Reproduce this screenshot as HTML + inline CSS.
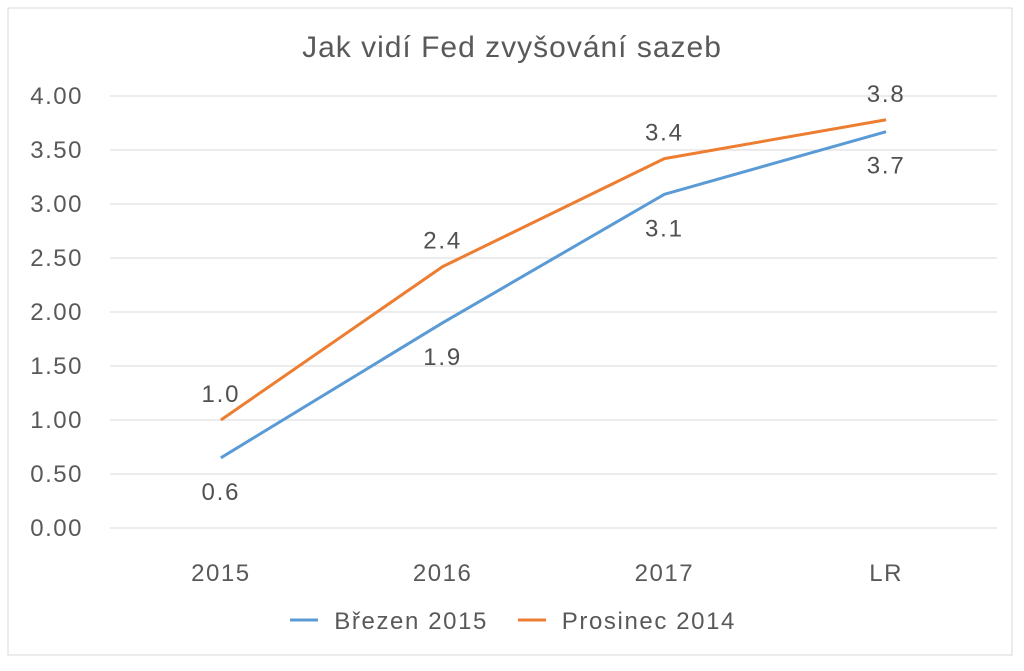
<!DOCTYPE html>
<html><head><meta charset="utf-8"><style>
body{margin:0;background:#fff;}
svg{display:block;font-family:"Liberation Sans",sans-serif;}
</style></head><body>
<svg id="c" width="1024" height="671">
<rect x="8" y="8" width="1004" height="647" fill="#fff" stroke="#d9d9d9"/>
<text x="512" y="57" text-anchor="middle" font-size="30" letter-spacing="1" fill="#595959">Jak vidí Fed zvyšování sazeb</text>
<g id="grid"></g><g id="series"></g>
<g>
<line x1="290" y1="620" x2="318" y2="620" stroke="#5b9bd5" stroke-width="3"/>
<text x="488" y="629" text-anchor="end" font-size="24" letter-spacing="1.6" fill="#595959">Březen 2015</text>
<line x1="518" y1="620" x2="546" y2="620" stroke="#ed7d31" stroke-width="3"/>
<text x="736" y="629" text-anchor="end" font-size="24" letter-spacing="1.6" fill="#595959">Prosinec 2014</text>
</g>
</svg>
<script>
const categories=["2015","2016","2017","LR"];
const brezen=[0.65,1.9,3.09,3.67];
const prosinec=[1.0,2.42,3.42,3.78];
const brezenLabels=["0.6","1.9","3.1","3.7"];
const prosinecLabels=["1.0","2.4","3.4","3.8"];
const yTicks=[0,0.5,1,1.5,2,2.5,3,3.5,4];
const NS="http://www.w3.org/2000/svg";
const x0=110,x1=997,y0=528,yPer=108;
const bw=(x1-x0)/categories.length;
const X=i=>x0+bw*(i+0.5), Y=v=>y0-v*yPer;
function mk(t,a,p){const e=document.createElementNS(NS,t);for(const k in a)e.setAttribute(k,a[k]);p.appendChild(e);return e;}
const g=document.getElementById('grid'), s=document.getElementById('series');
yTicks.forEach(v=>{
 const l=mk('line',{x1:x0,x2:x1,y1:Y(v),y2:Y(v),stroke:'#d9d9d9','stroke-width':1},g);
 
 
 const t=mk('text',{x:83,y:Y(v)+8,'text-anchor':'end','font-size':24,'letter-spacing':1.5,fill:'#595959'},g);
 t.textContent=v.toFixed(2);
 
 
});
categories.forEach((c,i)=>{
 const t=mk('text',{x:X(i),y:581,'text-anchor':'middle','font-size':24,'letter-spacing':1.5,fill:'#595959'},g);
 t.textContent=c;
 
 
});
function series(vals,labs,col,name,above){
 const p=mk('polyline',{points:vals.map((v,i)=>X(i)+','+Y(v)).join(' '),fill:'none',stroke:col,'stroke-width':3,'stroke-linejoin':'round'},s);
 
 
 vals.forEach((v,i)=>{
  const t=mk('text',{x:X(i),y:above?Y(v)-18:Y(v)+42,'text-anchor':'middle','font-size':24,'letter-spacing':1.8,fill:'#505050'},s);
  t.textContent=labs[i];
  
  
 });
}
series(brezen,brezenLabels,'#5b9bd5','series-brezen-2015',false);
series(prosinec,prosinecLabels,'#ed7d31','series-prosinec-2014',true);
</script>
</body></html>
